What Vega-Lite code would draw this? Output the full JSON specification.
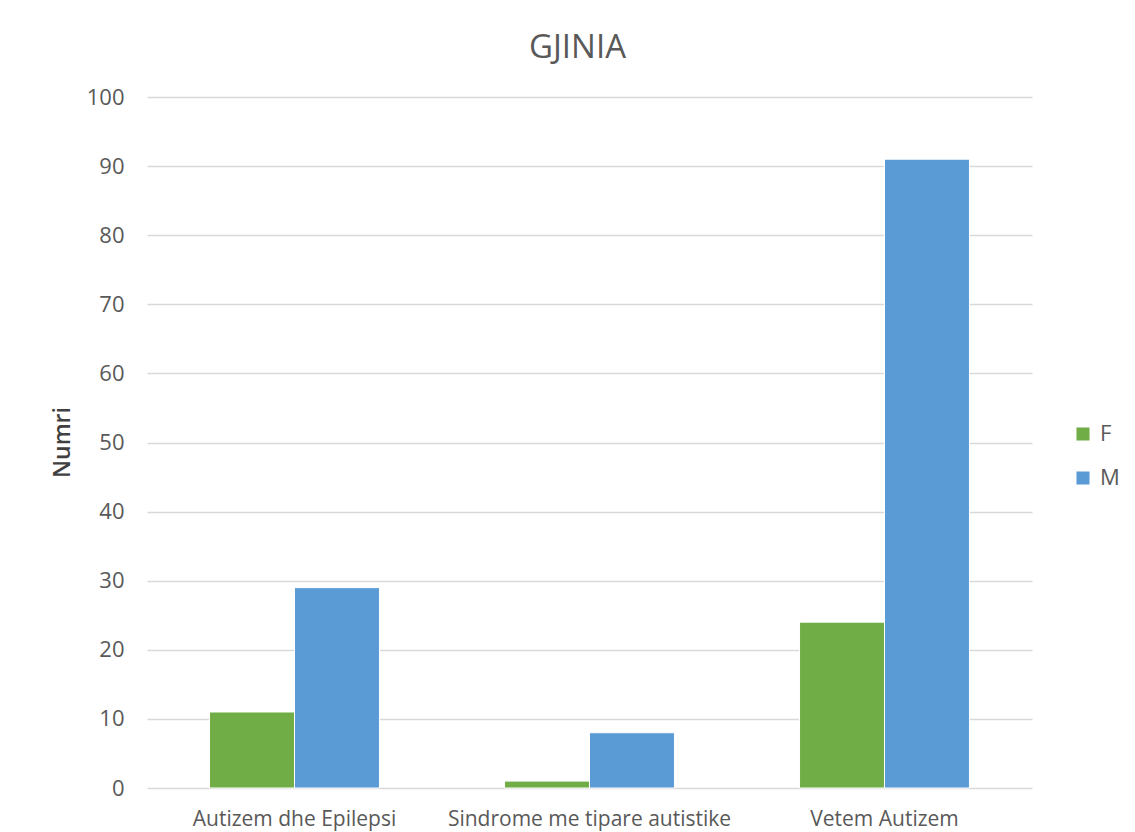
{
  "$schema": "https://vega.github.io/schema/vega-lite/v6.json",
  "autosize": {"type": "none"},
  "width": 885,
  "height": 691,
  "padding": {"left": 147, "top": 97, "right": 103, "bottom": 44},
  "background": "white",
  "title": {
    "text": "GJINIA",
    "font": "Open Sans",
    "fontSize": 33,
    "fontWeight": "normal",
    "color": "#595959",
    "anchor": "middle",
    "dx": -12,
    "offset": 21
  },
  "data": {
    "values": [
      {"grupi": "Autizem dhe Epilepsi", "gjinia": "F", "numri": 11},
      {"grupi": "Autizem dhe Epilepsi", "gjinia": "M", "numri": 29},
      {"grupi": "Sindrome me tipare autistike", "gjinia": "F", "numri": 1},
      {"grupi": "Sindrome me tipare autistike", "gjinia": "M", "numri": 8},
      {"grupi": "Vetem Autizem", "gjinia": "F", "numri": 24},
      {"grupi": "Vetem Autizem", "gjinia": "M", "numri": 91}
    ]
  },
  "mark": {"type": "bar", "stroke": "white", "strokeWidth": 1},
  "encoding": {
    "x": {
      "field": "grupi",
      "type": "nominal",
      "sort": null,
      "scale": {"paddingInner": 0.424, "paddingOuter": 0.212},
      "axis": {
        "title": null,
        "labelAngle": 0,
        "labelFont": "Open Sans",
        "labelFontSize": 21,
        "labelColor": "#595959",
        "labelPadding": 20,
        "labelLimit": 0,
        "domain": false,
        "ticks": false,
        "grid": false
      }
    },
    "xOffset": {"field": "gjinia", "type": "nominal", "sort": ["F", "M"]},
    "y": {
      "field": "numri",
      "type": "quantitative",
      "scale": {"domain": [0, 100], "nice": false},
      "axis": {
        "title": "Numri",
        "titleFont": "Open Sans",
        "titleFontSize": 23,
        "titleFontWeight": 600,
        "titleColor": "#404040",
        "titleX": -85,
        "titleY": 345,
        "titleAngle": -90,
        "titleAlign": "center",
        "titleBaseline": "middle",
        "values": [0, 10, 20, 30, 40, 50, 60, 70, 80, 90, 100],
        "labelFont": "Open Sans",
        "labelFontSize": 22,
        "labelColor": "#595959",
        "labelPadding": 23,
        "domain": false,
        "ticks": false,
        "grid": true,
        "gridColor": "#d9d9d9",
        "gridWidth": 1.5
      }
    },
    "color": {
      "field": "gjinia",
      "type": "nominal",
      "scale": {"domain": ["F", "M"], "range": ["#70AD47", "#5B9BD5"]},
      "legend": {
        "title": null,
        "orient": "none",
        "legendX": 925,
        "legendY": 326,
        "symbolType": "square",
        "symbolSize": 170,
        "symbolStrokeWidth": 0,
        "labelFont": "Open Sans",
        "labelFontSize": 22,
        "labelColor": "#595959",
        "labelOffset": 6,
        "rowPadding": 22
      }
    }
  },
  "config": {
    "view": {"stroke": null}
  }
}
